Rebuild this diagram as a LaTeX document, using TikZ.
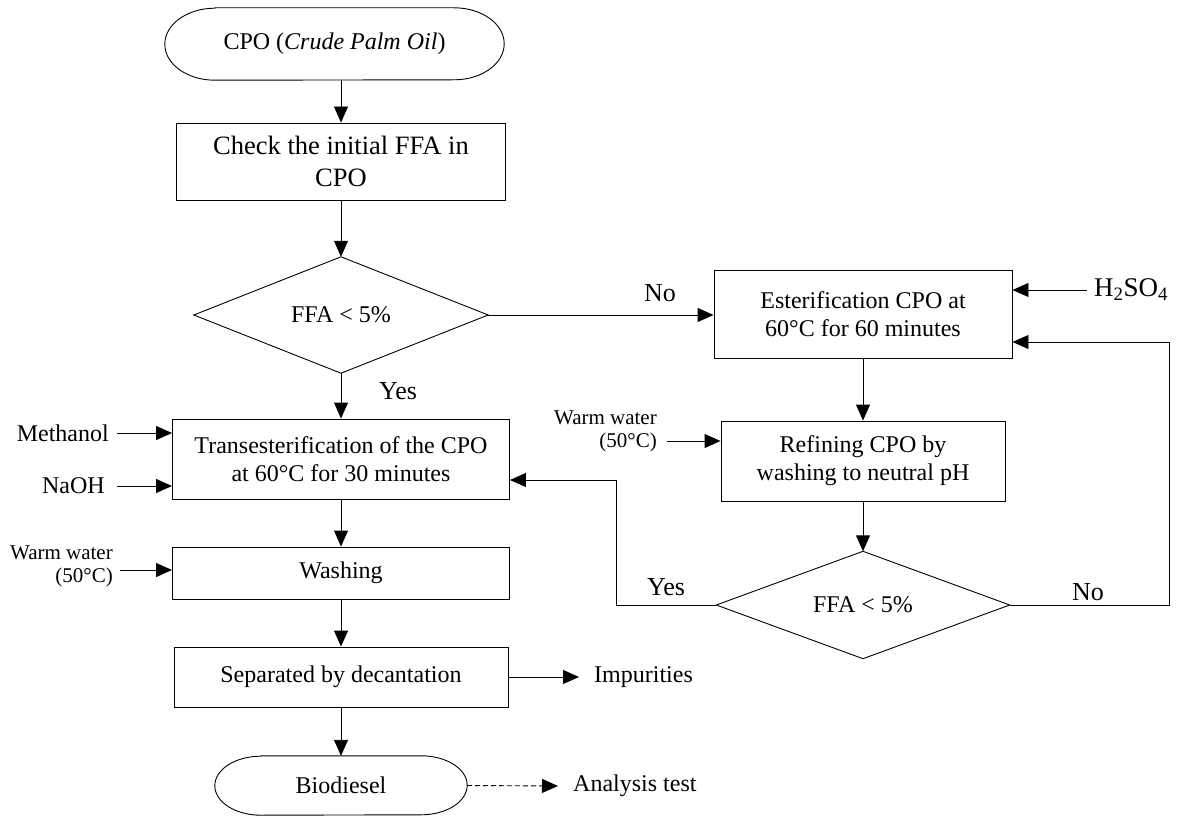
\documentclass[tikz,border=0pt]{standalone}
\usepackage{fontspec}
\setmainfont{Liberation Serif}
\usetikzlibrary{arrows.meta,calc}
\begin{document}
\begin{tikzpicture}[x=1pt,y=-1pt,
  box/.style={draw, line width=0.9pt, align=center, inner sep=0pt, font=\fontsize{24}{28}\selectfont},
  ghost/.style={draw=none, inner sep=0pt, align=center, font=\fontsize{24}{28}\selectfont},
  outline/.style={line width=0.9pt},
  arr/.style={-{Triangle[length=16pt,width=14pt]}, line width=0.9pt},
  lbl/.style={inner sep=0pt, font=\fontsize{24}{28}\selectfont},
  yn/.style={inner sep=0pt, font=\fontsize{26}{30}\selectfont},
  small/.style={inner sep=0pt, align=right, font=\fontsize{21}{23}\selectfont}]
\useasboundingbox (0,0) rectangle (1180,818);

% column coordinates
\coordinate (cl) at (341,0);
\coordinate (cr) at (863,0);

% left column
\node[ghost, minimum width=339pt, minimum height=72pt] (cpo) at (334.5,44) {CPO (\textit{Crude Palm Oil})};
\draw[outline] ([xshift=50pt]cpo.north west) -- ([xshift=-50pt]cpo.north east)
  arc[start angle=90,end angle=-90,x radius=50pt,y radius=36pt]
  -- ([xshift=50pt]cpo.south west)
  arc[start angle=270,end angle=90,x radius=50pt,y radius=36pt] -- cycle;

\node[box, minimum width=329pt, minimum height=77pt, font=\fontsize{26.5}{32}\selectfont] (check) at (341,161.5) {Check the initial FFA in\\CPO};

\node[ghost, minimum width=294pt, minimum height=116pt] (d1) at (341,315) {FFA < 5\%};
\draw[outline] (d1.west) -- (d1.north) -- (d1.east) -- (d1.south) -- cycle;

\node[box, minimum width=337pt, minimum height=80pt] (trans) at (341,459) {Transesterification of the CPO\\at 60°C for 30 minutes};
\node[box, minimum width=337pt, minimum height=52pt] (wash) at (341,573) {Washing};
\node[box, minimum width=334pt, minimum height=60pt] (sep) at (341,677) {Separated by decantation};

\node[ghost, minimum width=252pt, minimum height=59pt] (bio) at (341,785.5) {Biodiesel};
\draw[outline] ([xshift=46pt]bio.north west) -- ([xshift=-46pt]bio.north east)
  arc[start angle=90,end angle=-90,x radius=46pt,y radius=29.5pt]
  -- ([xshift=46pt]bio.south west)
  arc[start angle=270,end angle=90,x radius=46pt,y radius=29.5pt] -- cycle;

% right column
\node[box, minimum width=298pt, minimum height=88pt] (est) at (863,314) {Esterification CPO at\\60°C for 60 minutes};
\node[box, minimum width=284pt, minimum height=80pt] (ref) at (863,461) {Refining CPO by\\washing to neutral pH};
\node[ghost, minimum width=293pt, minimum height=107pt] (d2) at (863,605) {FFA < 5\%};
\draw[outline] (d2.west) -- (d2.north) -- (d2.east) -- (d2.south) -- cycle;

% side inputs and outputs
\node[lbl, anchor=east] (meth) at (109,433) {Methanol};
\node[lbl, anchor=east] (naoh) at (105,486) {NaOH};
\node[small, anchor=east] (ww1) at (113,566) {Warm water\\(50°C)};
\node[small, anchor=east] (ww2) at (657,431) {Warm water\\(50°C)};
\node[inner sep=0pt, anchor=west, font=\fontsize{27}{30}\selectfont] (h2) at (1094,290) {$\mathrm{H_2SO_4}$};
\node[lbl, anchor=west] (imp) at (594,677) {Impurities};
\node[lbl, anchor=west] (ana) at (573,786) {Analysis test};

% labels
\node[yn] (no1) at (660,293) {No};
\node[yn] (yes1) at (398,391) {Yes};
\node[yn] (yes2) at (666,587) {Yes};
\node[yn] (no2) at (1088,592) {No};

% helper coordinates
\coordinate (w1s) at (120,570);
\coordinate (w2s) at (667,441);
\coordinate (hs) at (1087,290);
\coordinate (yb) at (616,480);
\coordinate (nb) at (1169,342);

% connectors
\draw[arr] (cpo.south -| cl) -- (check.north);
\draw[arr] (check.south) -- (d1.north);
\draw[arr] (d1.south) -- (trans.north);
\draw[arr] (trans.south) -- (wash.north);
\draw[arr] (wash.south) -- (sep.north);
\draw[arr] (sep.south) -- (bio.north);
\draw[arr] (d1.east) -- (d1.east -| est.west);
\draw[arr] (est.south) -- (ref.north);
\draw[arr] (ref.south) -- (d2.north);
\draw[arr] (d2.west) -| (yb) -- (yb -| trans.east);
\draw[arr] (d2.east) -| (nb) -- (nb -| est.east);
\draw[arr] ([xshift=8pt]meth.east) -- (meth.east -| trans.west);
\draw[arr] ([xshift=12pt]naoh.east) -- (naoh.east -| trans.west);
\draw[arr] (w1s) -- (w1s -| wash.west);
\draw[arr] (w2s) -- (w2s -| ref.west);
\draw[arr] (hs) -- (hs -| est.east);
\draw[arr] (sep.east) -- ([xshift=-15pt]imp.west);
\draw[arr, dash pattern=on 5pt off 3pt] (bio.east) -- ([xshift=-15pt]ana.west);
\end{tikzpicture}
\end{document}
